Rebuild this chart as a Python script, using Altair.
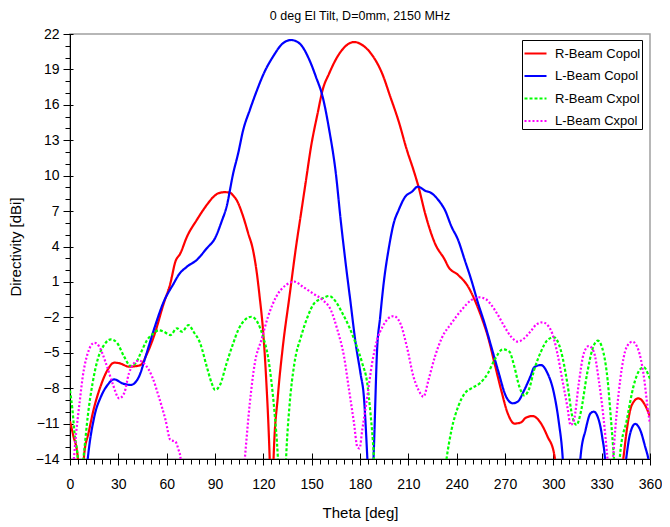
import altair as alt
import pandas as pd

# ---- data ----
series_names = ["R-Beam Copol", "L-Beam Copol", "R-Beam Cxpol", "L-Beam Cxpol"]
series_colors = ["#ff0000", "#0000ff", "#00ff00", "#ff00ff"]

r_co_theta = [0, 2, 4.8, 6.5, 8.9, 11.5, 15.1, 18.2, 23.3, 27.4, 31, 36.6, 40, 43.8, 47.9, 52, 58.2,
              62.3, 65.4, 68.5, 72.6, 78.7, 84.9, 89, 92.1, 96, 99.3, 101.3, 103.4, 107.5, 110.6,
              113.6, 115.7, 117.7, 119.8, 121.8, 123.9, 125.2, 126.4, 129, 132.1, 136.2, 140.3,
              143.4, 146.5, 149.6, 153.7, 156.8, 160.9, 166, 171.1, 176.3, 181.4, 187.5, 193.7,
              198.8, 204, 209.1, 213.2, 216.3, 220.4, 226.5, 232.7, 234.8, 240.9, 247.1, 251.2,
              255.3, 259.4, 263.5, 267.6, 271.7, 275.8, 279.9, 283, 287.1, 292.3, 296.4, 300.4,
              303, 310, 335, 341.5, 343.6, 345.6, 348.7, 352.8, 356.9, 360]
r_co_db = [-10.8, -12.0, -13.8, -18, -13.5, -11.8, -9.57, -8.15, -6.46, -5.84, -5.9, -6.18, -6.15,
           -6.04, -5.05, -3.64, -0.81, 0.88, 2.71, 3.42, 4.83, 6.25, 7.52, 8.2, 8.51, 8.6, 8.56,
           8.31, 7.94, 6.53, 5.12, 3.70, 2.01, -0.25, -3.07, -7.31, -13.8, -20, -13.8, -8.72,
           -4.49, -0.25, 3.98, 6.81, 9.63, 12.45, 15.28, 17.26, 18.67, 20.08, 20.98, 21.32, 21.07,
           20.22, 18.67, 16.69, 14.6, 12.17, 10.48, 9.07, 6.81, 4.27, 2.86, 2.29, 1.59, 0.60,
           -0.53, -1.95, -3.64, -5.89, -8.15, -10.13, -11.0, -10.9, -10.5, -10.36, -10.98, -12.1,
           -13.5, -16, -22, -22, -16, -13.8, -11.54, -9.43, -8.86, -9.43, -10.41]

l_co_theta = [0, 5, 9, 11, 15.1, 19.2, 23.3, 27.4, 32.5, 37.7, 42.8, 46.9, 52, 58.2, 64.4, 67.4,
              72.6, 78.7, 84.9, 90, 94.1, 97.2, 101.3, 104.4, 107.5, 111.6, 115.7, 120.8, 126,
              132.1, 137.2, 142.4, 148.6, 152.6, 156.8, 160.9, 165, 168, 171.1, 174.2, 177.3,
              180.3, 182.4, 184.5, 186.5, 188.6, 190.6, 192.5, 194.7, 197.8, 200.9, 204, 208.1,
              212.2, 215.9, 220.4, 224.5, 228.6, 232.7, 236.8, 240.9, 245, 249.1, 253.3, 257.3,
              261.5, 265.6, 270.7, 274.8, 277.9, 282, 286.1, 288.1, 292.3, 296.4, 300.4, 303.5,
              305.6, 307.5, 311, 315, 316.9, 320, 323.1, 325.1, 328.2, 330.3, 332.3, 334, 340,
              345.2, 347.7, 350.8, 353.9, 357, 359, 360]
l_co_db = [-17, -20, -17, -14, -10.41, -8.72, -7.73, -7.25, -7.59, -7.73, -7.03, -5.33, -3.07,
           -0.67, 0.88, 1.59, 2.29, 2.86, 3.85, 4.70, 6.11, 7.38, 10.2, 11.9, 13.87, 15.56, 17.11,
           18.81, 20.08, 21.21, 21.49, 21.21, 19.80, 18.39, 16.69, 13.87, 10.2, 6.25, 2.58,
           -0.81, -4.2, -6.74, -8.72, -13.8, -20, -13.2, -4.77, -2.0, 0.9, 3.8, 5.96, 7.09, 8.22,
           8.64, 9.07, 8.73, 8.51, 7.94, 7.09, 5.68, 4.55, 2.86, 1.16, -0.81, -2.5, -4.49, -6.46,
           -8.72, -9.28, -9.14, -8.15, -6.9, -6.23, -6.04, -6.74, -8.44, -10.98, -13.5, -18, -22,
           -18, -13.8, -11.54, -10.13, -9.99, -10.7, -12.11, -14.5, -20, -22, -14, -11.83,
           -11.03, -11.54, -12.96, -14, -14.8]

r_x_theta = [0, 1.5, 2.8, 4.8, 6, 7.5, 8.9, 11, 14, 17.1, 21.2, 25.4, 29.4, 33.6, 37.7, 40.8, 43.8,
             47.9, 52, 55, 58.2, 62.3, 66.4, 69.5, 73.6, 76.7, 80.8, 84.9, 88, 90, 93.1, 97.2,
             101.3, 104.4, 108.5, 112.6, 116.7, 119.8, 122.9, 124.9, 127, 129, 131, 133, 134.1,
             136.2, 139.3, 143.4, 147.5, 151.6, 156.8, 160.9, 165, 169.1, 173.2, 177.3, 181.4,
             184.5, 186.5, 188.6, 190, 200, 225, 231, 233.7, 236.8, 240.9, 245, 249.1, 254.3,
             259.4, 263.5, 268.7, 272.7, 275.8, 278.9, 282, 285.1, 288, 292.3, 296.4, 300.4,
             304.6, 308.7, 311.8, 314.4, 316.9, 321, 324.1, 327.6, 331.2, 333.7, 335.8, 337.4,
             339.5, 341.5, 345.6, 349.7, 353.9, 356.3, 359, 360]
r_x_db = [-8.2, -9.8, -11.8, -13.8, -16, -15, -13.2, -10.41, -7.59, -5.61, -4.34, -3.86, -4.2,
          -5.33, -6.12, -5.89, -5.05, -3.92, -3.35, -3.1, -3.22, -3.5, -2.93, -3.22, -2.65, -3.22,
          -4.2, -6.18, -7.6, -8.15, -7.73, -5.89, -4.2, -3.07, -2.22, -1.95, -2.5, -3.64, -5.33,
          -7.31, -10.13, -13.8, -20, -18, -14, -9.57, -5.89, -3.64, -1.95, -0.81, -0.39, -0.19,
          -0.67, -1.66, -2.79, -4.2, -5.89, -7.59, -10.13, -13.8, -18, -25, -25, -17, -14,
          -11.54, -9.57, -8.44, -8.01, -7.59, -6.74, -5.61, -4.71, -4.91, -6.18, -7.87, -8.62,
          -8.01, -6.5, -4.91, -3.92, -3.69, -4.77, -7.59, -10.41, -11.12, -10.13, -6.74, -4.77,
          -3.98, -5.05, -7.31, -10.7, -13.5, -17, -13.5, -10.7, -7.87, -6.4, -6.23, -6.88, -7.2]

l_x_theta = [0, 2, 3.8, 5.9, 7.9, 11, 15.1, 18.2, 22.3, 26.4, 30.5, 33.6, 36.6, 39.7, 42.8, 46.9,
             51, 55.1, 59.3, 62.3, 65.4, 67.4, 68.5, 70, 80, 100, 106, 108.5, 111.6, 114.7, 118.8,
             122.9, 128, 134.1, 139.3, 144.4, 150.6, 156.8, 161.9, 166, 170.1, 173.2, 176.3,
             178.3, 179.7, 181.4, 184.5, 187.5, 190.6, 194, 197.5, 200.9, 205, 209.1, 213.2,
             216.3, 219.4, 222.5, 226.5, 230.7, 236.8, 243, 249.1, 253.5, 258, 261.5, 265.6,
             269.7, 273.8, 277.9, 282, 286.1, 289.5, 293.3, 298.4, 302.5, 305.6, 308.7, 310.7,
             312.8, 315.8, 318.9, 322, 325.1, 328.2, 331.3, 333.3, 335, 337, 338.4, 341.5, 345.6,
             349.1, 352.8, 355.9, 359, 360]
l_x_db = [-16, -14.5, -11.8, -9.28, -7.03, -5.05, -4.15, -4.49, -5.89, -7.59, -8.86, -8.44, -6.74,
          -5.89, -5.67, -6.04, -7.03, -8.72, -10.7, -12.39, -12.53, -13.24, -13.8, -18, -25, -25,
          -18, -14, -9.28, -5.89, -3.92, -1.95, -0.25, 0.74, 1.02, 0.60, 0.04, -0.53, -1.38,
          -3.07, -5.33, -8.15, -10.98, -12.96, -13.1, -11.54, -8.72, -5.89, -3.92, -2.8, -2.1,
          -1.89, -2.5, -4.49, -7.03, -8.15, -8.72, -7.31, -5.33, -3.77, -2.5, -1.38, -0.53, -0.3,
          -0.45, -0.95, -1.80, -2.79, -3.64, -4.06, -3.77, -3.15, -2.6, -2.42, -3.07, -5.05,
          -7.31, -9.57, -11.12, -10.7, -7.59, -5.05, -4.43, -4.91, -7.31, -10.7, -13.5, -16,
          -14, -11.54, -7.31, -4.49, -4.06, -4.77, -6.74, -10.13, -11]

x_major = list(range(0, 361, 30))
x_minor = list(range(0, 361, 5))
y_major = list(range(-14, 23, 3))
y_minor = list(range(-14, 23, 1))

# ---- table ----
frames = []
for name, th, db in [
    (series_names[0], r_co_theta, r_co_db),
    (series_names[1], l_co_theta, l_co_db),
    (series_names[2], r_x_theta, r_x_db),
    (series_names[3], l_x_theta, l_x_db),
]:
    frames.append(pd.DataFrame({"theta": th, "db": db, "series": name}))
df = pd.concat(frames, ignore_index=True)

FONT = "Liberation Sans"
xscale = alt.Scale(domain=[0, 360], nice=False, zero=False)
yscale = alt.Scale(domain=[-14, 22], nice=False, zero=False)

lines = alt.Chart(df).mark_line(clip=True, interpolate="monotone").encode(
    x=alt.X("theta:Q", scale=xscale,
            axis=alt.Axis(orient="bottom", values=x_major, title="Theta [deg]", grid=False,
                          tickSize=6, labelPadding=12, titlePadding=14, labelFontSize=14,
                          titleFontSize=15, labelFlush=False)),
    y=alt.Y("db:Q", scale=yscale,
            axis=alt.Axis(orient="left", values=y_major, title="Directivity [dBi]", grid=False,
                          tickSize=7, labelPadding=4, titlePadding=12, labelFontSize=14,
                          titleFontSize=15, labelFlush=False)),
    color=alt.Color("series:N",
                    scale=alt.Scale(domain=series_names, range=series_colors),
                    legend=alt.Legend(title=None, orient="none", legendX=452, legendY=6,
                                      symbolType="stroke", symbolSize=484,
                                      labelFontSize=13, labelFont=FONT,
                                      strokeColor="black", fillColor="white",
                                      padding=1, rowPadding=2.5, labelOffset=7)),
    strokeDash=alt.StrokeDash("series:N",
                              scale=alt.Scale(domain=series_names,
                                              range=[[1, 0], [1, 0], [3, 2], [2, 2]])),
    strokeWidth=alt.StrokeWidth("series:N",
                                scale=alt.Scale(domain=series_names, range=[2.2, 2.2, 1.0, 1.0])),
)

minor = alt.Chart(df).mark_point(opacity=0).encode(
    x=alt.X("theta:Q", scale=xscale,
            axis=alt.Axis(orient="bottom", values=x_minor, labels=False, domain=False,
                          grid=False, tickSize=5, title="")),
    y=alt.Y("db:Q", scale=yscale,
            axis=alt.Axis(orient="left", values=y_minor, labels=False, domain=False,
                          grid=False, tickSize=5, title="")),
)

inward = alt.Chart(df).mark_point(opacity=0).encode(
    x=alt.X("theta:Q", scale=xscale,
            axis=alt.Axis(orient="bottom", values=x_major, labels=False, domain=False,
                          grid=False, tickSize=6, offset=-6, title="")),
    y=alt.Y("db:Q", scale=yscale,
            axis=alt.Axis(orient="left", values=y_major, labels=False, domain=False,
                          grid=False, tickSize=3, offset=-3, title="")),
)

chart = alt.layer(lines, minor, inward).resolve_axis(
    x="independent", y="independent"
).properties(
    width=580,
    height=425,
    padding={"left": 62, "top": 26, "right": 12, "bottom": 62},
    autosize=alt.AutoSizeParams(type="none"),
    title=alt.TitleParams("0 deg El Tilt, D=0mm, 2150 MHz", fontSize=12.5, fontWeight="normal",
                          font=FONT, anchor="middle", offset=5, color="black"),
).configure_view(
    stroke="#a0a0a0", strokeWidth=1.5
).configure_axis(
    domainColor="black", tickColor="black", labelColor="black", titleColor="black",
    labelFont=FONT, titleFont=FONT, titleFontWeight="normal", domainWidth=1, tickWidth=1
)

chart.save("out.html", embed_options={"renderer": "svg", "actions": False})
